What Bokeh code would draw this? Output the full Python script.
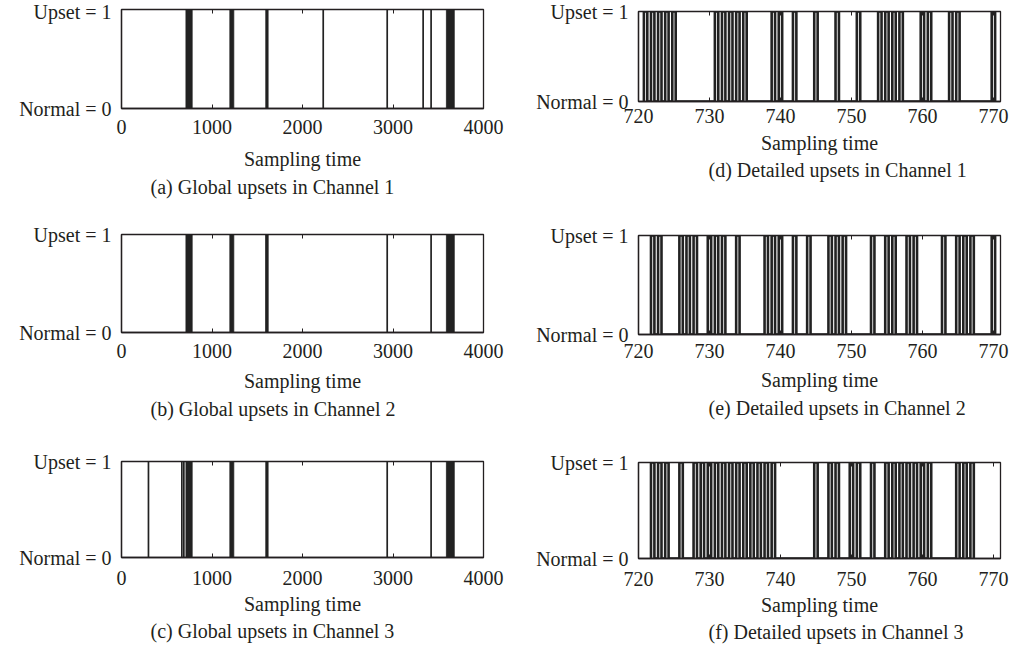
import numpy as np
from bokeh.plotting import figure
from bokeh.layouts import row, column
from bokeh.models import Range1d, FixedTicker, LinearAxis, CustomJSTickFormatter
from bokeh.embed import file_html
from bokeh.resources import INLINE

FONT = "Liberation Serif"
INK = "#231f20"
BAR = "#222222"
TXT = "20px"

# ---- axes ----
global_ticks = [0, 1000, 2000, 3000, 4000]
detail_ticks = [720, 730, 740, 750, 760, 770]
y_ticks = [0, 1]
y_tick_labels = ["Normal = 0", "Upset = 1"]

# ---- full record (0-4000): dense upset bursts and isolated upsets ----
ch1_burst_start = [712, 1197, 1594, 3590]
ch1_burst_end = [781, 1241, 1620, 3677]
ch1_single = [2229, 2936, 3333, 3421]

ch2_burst_start = [712, 1197, 1592, 3590]
ch2_burst_end = [781, 1241, 1621, 3677]
ch2_single = [2936, 3421]

ch3_burst_start = [712, 1197, 1594, 3590]
ch3_burst_end = [781, 1241, 1620, 3677]
ch3_single = [298, 667, 689, 2936, 3421]

# ---- detailed window (720-771): sampling times of each upset ----
ch1_detail = [721, 722, 723, 724, 725, 731, 732, 733, 734, 735, 739, 740,
              742, 745, 748, 751, 754, 755, 756, 757, 760, 761, 764, 765, 770]
ch2_detail = [722, 723, 726, 727, 728, 730, 731, 732, 734, 738, 739, 740,
              742, 744, 747, 748, 749, 753, 755, 756, 758, 759, 763, 765,
              766, 767, 770]
ch3_detail = [722, 723, 724, 726, 728, 729, 730, 731, 732, 733, 734, 735,
              736, 737, 738, 739, 745, 747, 748, 750, 751, 753, 755, 756,
              757, 758, 759, 760, 761, 765, 766, 767]

captions_global = ["(a) Global upsets in Channel 1",
                   "(b) Global upsets in Channel 2",
                   "(c) Global upsets in Channel 3"]
captions_detail = ["(d) Detailed upsets in Channel 1",
                   "(e) Detailed upsets in Channel 2",
                   "(f) Detailed upsets in Channel 3"]


def pulse_train(times, half=0.24):
    """0/1 waveform with a short pulse at every upset time."""
    xs, ys = [], []
    for t in times:
        xs += [t - half, t - half, t + half, t + half]
        ys += [0, 1, 1, 0]
    return xs, ys


def panel(x0, x1, ticks, caption, frame_h, top, bottom, left, right,
          tick_gap=11, label_gap=11, title_gap=3, title_shift=0):
    p = figure(frame_width=362, frame_height=frame_h,
               x_range=Range1d(x0, x1), y_range=Range1d(0, 1),
               min_border_top=top, min_border_bottom=bottom,
               min_border_left=left, min_border_right=right,
               title=caption, title_location="below",
               x_axis_label="Sampling time",
               output_backend="svg", toolbar_location=None)
    p.grid.visible = False
    p.background_fill_color = "white"
    p.border_fill_color = "white"
    p.outline_line_color = INK
    p.outline_line_width = 1.3
    p.outline_line_alpha = 1.0

    t = p.title
    t.align = "left"
    t.offset = title_shift
    t.text_font = FONT
    t.text_font_style = "normal"
    t.text_font_size = TXT
    t.text_color = INK
    t.standoff = title_gap

    xa = p.xaxis[0]
    xa.ticker = FixedTicker(ticks=ticks)
    xa.major_tick_in = 4
    xa.major_tick_out = 0
    xa.minor_tick_line_color = None
    xa.major_tick_line_color = INK
    xa.axis_line_color = INK
    xa.axis_line_width = 1.3
    xa.major_label_text_font = FONT
    xa.major_label_text_font_size = TXT
    xa.major_label_text_color = INK
    xa.major_label_standoff = tick_gap
    xa.axis_label_text_font = FONT
    xa.axis_label_text_font_style = "normal"
    xa.axis_label_text_font_size = TXT
    xa.axis_label_text_color = INK
    xa.axis_label_standoff = label_gap

    ya = p.yaxis[0]
    ya.ticker = FixedTicker(ticks=y_ticks)
    ya.major_label_overrides = dict(zip(y_ticks, y_tick_labels))
    ya.major_tick_in = 0
    ya.major_tick_out = 0
    ya.minor_tick_line_color = None
    ya.axis_line_color = INK
    ya.axis_line_width = 1.3
    ya.major_label_text_font = FONT
    ya.major_label_text_font_size = TXT
    ya.major_label_text_color = INK
    ya.major_label_standoff = 10

    # inward ticks along the top edge of the box
    top_axis = LinearAxis(ticker=FixedTicker(ticks=ticks),
                          formatter=CustomJSTickFormatter(code="return ''"),
                          major_tick_in=4, major_tick_out=0,
                          major_tick_line_color=INK,
                          minor_tick_line_color=None,
                          axis_line_color=None,
                          major_label_standoff=0,
                          major_label_text_font_size="0px")
    p.add_layout(top_axis, "above")
    return p


def global_panel(bs, be, singles, caption, frame_h, top, bottom, **kw):
    p = panel(0, 4000, global_ticks, caption, frame_h, top, bottom, 121, 22,
              title_shift=29, **kw)
    p.quad(left=bs, right=be, bottom=0, top=1, fill_color=BAR, line_color=BAR,
           line_width=0.8)
    p.segment(x0=singles, x1=singles, y0=[0] * len(singles), y1=[1] * len(singles),
              line_color=BAR, line_width=1.7)
    return p


def detail_panel(times, caption, frame_h, top, bottom, **kw):
    p = panel(720, 771, detail_ticks, caption, frame_h, top, bottom, 133, 10,
              title_shift=70, **kw)
    xs, ys = pulse_train(times)
    p.line(xs, ys, line_color=BAR, line_width=2.6)
    return p


pa = global_panel(ch1_burst_start, ch1_burst_end, ch1_single, captions_global[0], 99, 9, 100)
pb = global_panel(ch2_burst_start, ch2_burst_end, ch2_single, captions_global[1], 98, 26, 100,
                  label_gap=9, title_gap=2)
pc = global_panel(ch3_burst_start, ch3_burst_end, ch3_single, captions_global[2], 96, 29, 95,
                  tick_gap=13, label_gap=5, title_gap=1)

pd = detail_panel(ch1_detail, captions_detail[0], 90, 11, 100,
                  tick_gap=7, label_gap=6, title_gap=0)
pe = detail_panel(ch2_detail, captions_detail[1], 99, 34, 100,
                  tick_gap=9, label_gap=8, title_gap=2)
pf = detail_panel(ch3_detail, captions_detail[2], 96, 28, 94,
                  tick_gap=13, label_gap=5, title_gap=1)

layout = row(column(pa, pb, pc, spacing=0), column(pd, pe, pf, spacing=0), spacing=0)

open("out.html", "w").write(file_html(layout, INLINE))
